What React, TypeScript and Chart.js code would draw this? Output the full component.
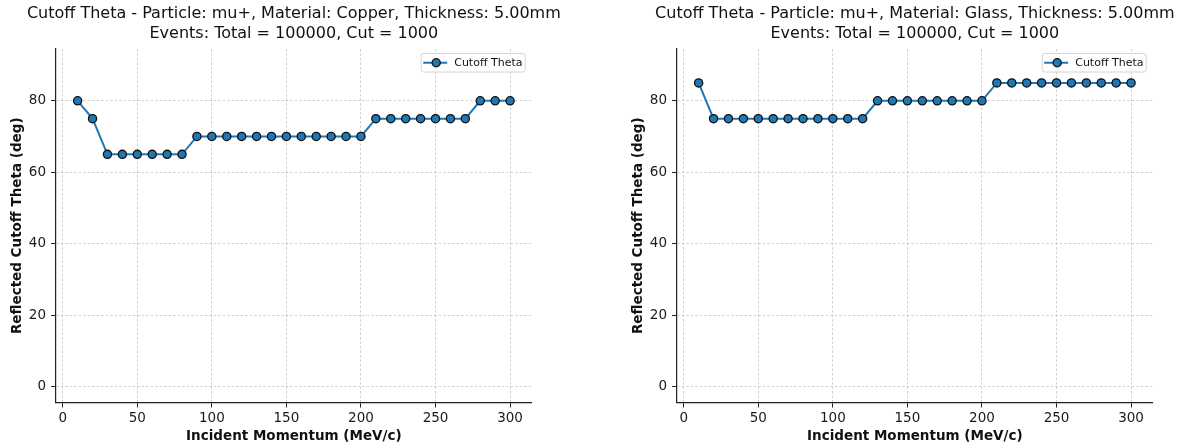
import React, { useEffect, useRef } from 'react';
import { Chart, registerables } from 'chart.js';
Chart.register(...registerables);

const momentum = [10, 20, 30, 40, 50, 60, 70, 80, 90, 100, 110, 120, 130, 140, 150, 160, 170, 180, 190, 200, 210, 220, 230, 240, 250, 260, 270, 280, 290, 300];
const copperTheta = [80, 75, 65, 65, 65, 65, 65, 65, 70, 70, 70, 70, 70, 70, 70, 70, 70, 70, 70, 70, 75, 75, 75, 75, 75, 75, 75, 80, 80, 80];
const glassTheta = [85, 75, 75, 75, 75, 75, 75, 75, 75, 75, 75, 75, 80, 80, 80, 80, 80, 80, 80, 80, 85, 85, 85, 85, 85, 85, 85, 85, 85, 85];
const xTickValues = [0, 50, 100, 150, 200, 250, 300];
const yTickValues = [0, 20, 40, 60, 80];
const copperTitle = ['Cutoff Theta - Particle: mu+, Material: Copper, Thickness: 5.00mm', 'Events: Total = 100000, Cut = 1000'];
const glassTitle = ['Cutoff Theta - Particle: mu+, Material: Glass, Thickness: 5.00mm', 'Events: Total = 100000, Cut = 1000'];
const seriesLabel = 'Cutoff Theta';
const xLabel = 'Incident Momentum (MeV/c)';
const yLabel = 'Reflected Cutoff Theta (deg)';

const FONT = 'DejaVu Sans';
const BLUE = '#1f77b4';
const CH = 448;
const PLOT_RIGHT = 531.7;

function makeConfig(values: number[], title: string[], cw: number): any {
  const overlay = {
    id: 'overlay',
    afterDraw(chart: any) {
      const ctx = chart.ctx;
      const ca = chart.chartArea;
      ctx.save();
      // title
      ctx.fillStyle = '#111';
      ctx.font = `16px "${FONT}"`;
      ctx.textAlign = 'center';
      ctx.textBaseline = 'middle';
      const cx = (ca.left + ca.right) / 2;
      ctx.fillText(title[0], cx, 14);
      ctx.fillText(title[1], cx, 34);
      // legend
      const bw = 104, bh = 18.5;
      const bx = ca.right - 6.5 - bw;
      const by = ca.top + 4.5;
      ctx.beginPath();
      const r = 2.5;
      ctx.moveTo(bx + r, by);
      ctx.lineTo(bx + bw - r, by);
      ctx.quadraticCurveTo(bx + bw, by, bx + bw, by + r);
      ctx.lineTo(bx + bw, by + bh - r);
      ctx.quadraticCurveTo(bx + bw, by + bh, bx + bw - r, by + bh);
      ctx.lineTo(bx + r, by + bh);
      ctx.quadraticCurveTo(bx, by + bh, bx, by + bh - r);
      ctx.lineTo(bx, by + r);
      ctx.quadraticCurveTo(bx, by, bx + r, by);
      ctx.closePath();
      ctx.fillStyle = 'rgba(255,255,255,0.85)';
      ctx.fill();
      ctx.strokeStyle = '#d4d4d4';
      ctx.lineWidth = 1;
      ctx.stroke();
      const my = by + bh / 2;
      ctx.beginPath();
      ctx.moveTo(bx + 2, my);
      ctx.lineTo(bx + 26, my);
      ctx.strokeStyle = BLUE;
      ctx.lineWidth = 2;
      ctx.stroke();
      ctx.beginPath();
      ctx.arc(bx + 15, my, 4.1, 0, Math.PI * 2);
      ctx.fillStyle = BLUE;
      ctx.fill();
      ctx.strokeStyle = '#111';
      ctx.lineWidth = 1.3;
      ctx.stroke();
      ctx.fillStyle = '#111';
      ctx.font = `11px "${FONT}"`;
      ctx.textAlign = 'left';
      ctx.fillText(seriesLabel, bx + 33, my + 0.5);
      ctx.restore();
    },
  };

  return {
    type: 'line',
    data: {
      datasets: [
        {
          label: seriesLabel,
          data: momentum.map((m, i) => ({ x: m, y: values[i] })),
          borderColor: BLUE,
          borderWidth: 2,
          backgroundColor: BLUE,
          pointBackgroundColor: BLUE,
          pointBorderColor: '#111',
          pointBorderWidth: 1.3,
          pointRadius: 4.1,
          tension: 0,
        },
      ],
    },
    options: {
      responsive: false,
      animation: false,
      layout: { padding: { top: 49, right: cw - PLOT_RIGHT, bottom: 0, left: 0 } },
      plugins: { legend: { display: false }, title: { display: false }, tooltip: { enabled: false } },
      scales: {
        x: {
          type: 'linear',
          min: -4.5,
          max: 314.5,
          afterBuildTicks: (s: any) => {
            s.ticks = xTickValues.map((v) => ({ value: v }));
          },
          afterFit: (s: any) => {
            s.height = 45.5;
          },
          ticks: {
            callback: (v: any) => String(v),
            font: { family: FONT, size: 13.5 },
            color: '#1a1a1a',
            padding: 3,
            maxRotation: 0,
            autoSkip: false,
          },
          grid: {
            color: 'rgba(170,170,170,0.55)',
            lineWidth: 1,
            tickLength: 5,
            tickColor: '#222',
            tickWidth: 1,
          },
          border: { display: true, color: '#222', width: 1.2, dash: [2.5, 2] },
          title: {
            display: true,
            text: xLabel,
            font: { family: FONT, size: 13.5, weight: 'bold' },
            color: '#111',
            padding: { top: 0, bottom: 3.8 },
          },
        },
        y: {
          type: 'linear',
          min: -4.5,
          max: 94.5,
          afterBuildTicks: (s: any) => {
            s.ticks = yTickValues.map((v) => ({ value: v }));
          },
          afterFit: (s: any) => {
            s.width = 56;
          },
          ticks: {
            callback: (v: any) => String(v),
            font: { family: FONT, size: 13.5 },
            color: '#1a1a1a',
            padding: 5,
            autoSkip: false,
          },
          grid: {
            color: 'rgba(170,170,170,0.55)',
            lineWidth: 1,
            tickLength: 5,
            tickColor: '#222',
            tickWidth: 1,
          },
          border: { display: true, color: '#222', width: 1.2, dash: [2.5, 2] },
          title: {
            display: true,
            text: yLabel,
            font: { family: FONT, size: 13.5, weight: 'bold' },
            color: '#111',
            padding: { top: 9.8, bottom: 0 },
          },
        },
      },
    },
    plugins: [overlay],
  };
}

function Panel({ values, title, left, cw }: { values: number[]; title: string[]; left: number; cw: number }) {
  const ref = useRef<HTMLCanvasElement | null>(null);
  useEffect(() => {
    if (!ref.current) return;
    const chart = new Chart(ref.current, makeConfig(values, title, cw));
    return () => chart.destroy();
  }, [values, title, cw]);
  return (
    <div style={{ position: 'absolute', left, top: 0, width: cw, height: CH }}>
      <canvas ref={ref} width={cw} height={CH} style={{ display: 'block', width: cw, height: CH }} />
    </div>
  );
}

export default function App() {
  Chart.defaults.font.family = FONT;
  return (
    <div style={{ position: 'absolute', left: 0, top: 0, width: 1182, height: 448, background: '#fff', overflow: 'hidden' }}>
      <Panel values={copperTheta} title={copperTitle} left={0} cw={621} />
      <Panel values={glassTheta} title={glassTitle} left={621} cw={561} />
    </div>
  );
}
